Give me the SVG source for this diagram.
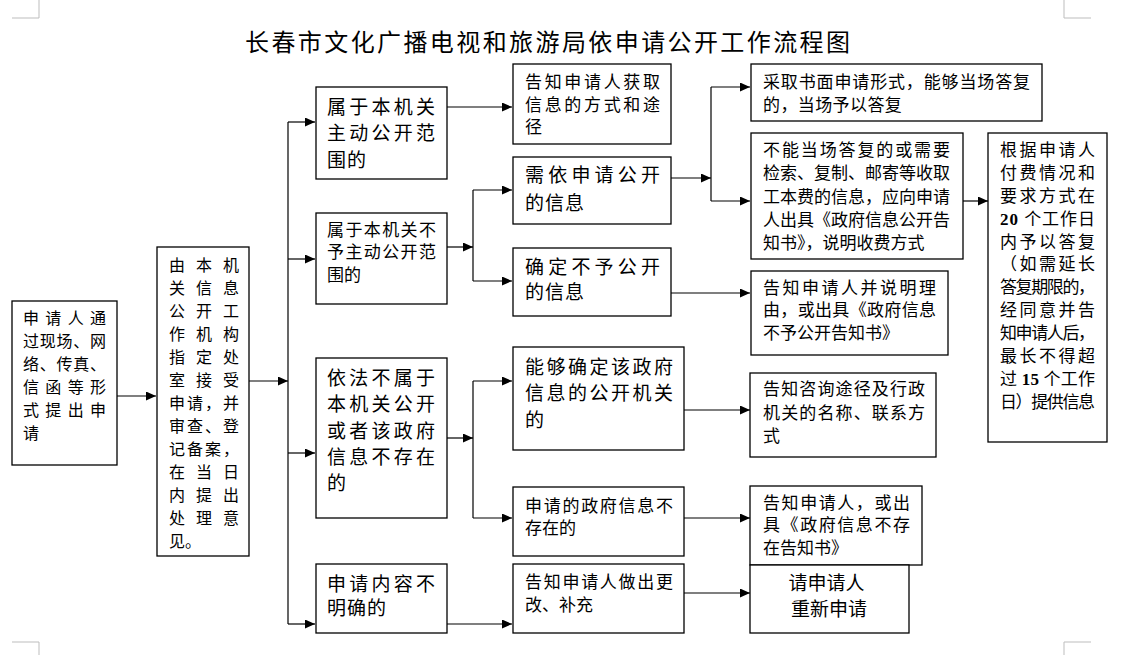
<svg xmlns="http://www.w3.org/2000/svg" width="1123" height="655" viewBox="0 0 1123 655">
<style>
text{font-family:"Liberation Serif","Noto Sans CJK SC",serif;fill:#000}
.f16{font-size:16px}.f17{font-size:17px}.f19{font-size:19px}
.box{fill:#fff;stroke:#000;stroke-width:1.3}
.c{fill:none;stroke:#000;stroke-width:1.2}
.corner{fill:none;stroke:#bdbdbd;stroke-width:1}
.num{font-family:"Liberation Serif",serif;font-weight:bold}
</style>
<defs>
<marker id="ah" markerUnits="userSpaceOnUse" markerWidth="10" markerHeight="9" refX="10" refY="4.5" orient="auto">
<path d="M0,0 L10,4.5 L0,9 z" fill="#000"/>
</marker>
</defs>
<rect width="1123" height="655" fill="#fff"/>
<g id="corners">
<path class="corner" d="M12,18 H39 V0"/>
<path class="corner" d="M1091,18 H1064 V0"/>
<path class="corner" d="M12,642 H39 V655"/>
<path class="corner" d="M1091,642 H1064 V655"/>
</g>
<text id="title" x="245" y="51" style="font-size:24px" textLength="605" lengthAdjust="spacing">长春市文化广播电视和旅游局依申请公开工作流程图</text>
<g id="connectors">
<path class="c" d="M117,396 H156" marker-end="url(#ah)"/>
<path class="c" d="M249,381 H288" marker-end="url(#ah)"/>
<path class="c" d="M288,122 V624"/>
<path class="c" d="M288,122 H315" marker-end="url(#ah)"/>
<path class="c" d="M288,259 H315" marker-end="url(#ah)"/>
<path class="c" d="M288,453 H315" marker-end="url(#ah)"/>
<path class="c" d="M288,624 H315" marker-end="url(#ah)"/>
<path class="c" d="M447,107 H512" marker-end="url(#ah)"/>
<path class="c" d="M447,247 H473" marker-end="url(#ah)"/>
<path class="c" d="M473,190 V281"/>
<path class="c" d="M473,190 H512" marker-end="url(#ah)"/>
<path class="c" d="M473,281 H512" marker-end="url(#ah)"/>
<path class="c" d="M671,178 H711" marker-end="url(#ah)"/>
<path class="c" d="M711,87 V201"/>
<path class="c" d="M711,87 H750" marker-end="url(#ah)"/>
<path class="c" d="M711,201 H750" marker-end="url(#ah)"/>
<path class="c" d="M963,201 H988" marker-end="url(#ah)"/>
<path class="c" d="M671,293 H750" marker-end="url(#ah)"/>
<path class="c" d="M447,438 H473" marker-end="url(#ah)"/>
<path class="c" d="M473,381 V518"/>
<path class="c" d="M473,381 H512" marker-end="url(#ah)"/>
<path class="c" d="M473,518 H512" marker-end="url(#ah)"/>
<path class="c" d="M684,410 H750" marker-end="url(#ah)"/>
<path class="c" d="M684,518 H750" marker-end="url(#ah)"/>
<path class="c" d="M684,593 H750" marker-end="url(#ah)"/>
<path class="c" d="M447,624 H512" marker-end="url(#ah)"/>
</g>
<g id="n-apply">
<rect class="box" x="12" y="301" width="105" height="164"/>
<text class="f16" x="23">
<tspan x="23" y="324" textLength="83" lengthAdjust="spacing">申请人通</tspan>
<tspan x="23" y="347" textLength="83" lengthAdjust="spacing">过现场、网</tspan>
<tspan x="23" y="370" textLength="83" lengthAdjust="spacing">络、传真、</tspan>
<tspan x="23" y="393" textLength="83" lengthAdjust="spacing">信函等形</tspan>
<tspan x="23" y="416" textLength="83" lengthAdjust="spacing">式提出申</tspan>
<tspan x="23" y="439">请</tspan>
</text>
</g>
<g id="n-accept">
<rect class="box" x="157" y="247" width="92" height="309"/>
<text class="f16">
<tspan x="169" y="271" textLength="70" lengthAdjust="spacing">由本机</tspan>
<tspan x="169" y="294" textLength="70" lengthAdjust="spacing">关信息</tspan>
<tspan x="169" y="317" textLength="70" lengthAdjust="spacing">公开工</tspan>
<tspan x="169" y="340" textLength="70" lengthAdjust="spacing">作机构</tspan>
<tspan x="169" y="363" textLength="70" lengthAdjust="spacing">指定处</tspan>
<tspan x="169" y="386" textLength="70" lengthAdjust="spacing">室接受</tspan>
<tspan x="169" y="409" textLength="70" lengthAdjust="spacing">申请，并</tspan>
<tspan x="169" y="432" textLength="70" lengthAdjust="spacing">审查、登</tspan>
<tspan x="169" y="455" textLength="70" lengthAdjust="spacing">记备案，</tspan>
<tspan x="169" y="478" textLength="70" lengthAdjust="spacing">在当日</tspan>
<tspan x="169" y="501" textLength="70" lengthAdjust="spacing">内提出</tspan>
<tspan x="169" y="524" textLength="70" lengthAdjust="spacing">处理意</tspan>
<tspan x="169" y="547">见。</tspan>
</text>
</g>
<g id="n-a1">
<rect class="box" x="316" y="87" width="131" height="92"/>
<text class="f19">
<tspan x="327" y="114" textLength="108" lengthAdjust="spacing">属于本机关</tspan>
<tspan x="327" y="140" textLength="108" lengthAdjust="spacing">主动公开范</tspan>
<tspan x="327" y="167" letter-spacing="1">围的</tspan>
</text>
</g>
<g id="n-a2">
<rect class="box" x="316" y="213" width="131" height="91"/>
<text class="f17">
<tspan x="327" y="236" textLength="109" lengthAdjust="spacing">属于本机关不</tspan>
<tspan x="327" y="258" textLength="109" lengthAdjust="spacing">予主动公开范</tspan>
<tspan x="327" y="281">围的</tspan>
</text>
</g>
<g id="n-a3">
<rect class="box" x="316" y="358" width="131" height="160"/>
<text class="f19">
<tspan x="327" y="385" textLength="108" lengthAdjust="spacing">依法不属于</tspan>
<tspan x="327" y="411" textLength="108" lengthAdjust="spacing">本机关公开</tspan>
<tspan x="327" y="438" textLength="108" lengthAdjust="spacing">或者该政府</tspan>
<tspan x="327" y="464" textLength="108" lengthAdjust="spacing">信息不存在</tspan>
<tspan x="327" y="490">的</tspan>
</text>
</g>
<g id="n-a4">
<rect class="box" x="316" y="564" width="131" height="69"/>
<text class="f19">
<tspan x="327" y="591" textLength="108" lengthAdjust="spacing">申请内容不</tspan>
<tspan x="327" y="615" letter-spacing="1">明确的</tspan>
</text>
</g>
<g id="n-b1">
<rect class="box" x="513" y="64" width="158" height="80"/>
<text class="f17">
<tspan x="525" y="88" textLength="135" lengthAdjust="spacing">告知申请人获取</tspan>
<tspan x="525" y="111" textLength="135" lengthAdjust="spacing">信息的方式和途</tspan>
<tspan x="525" y="133">径</tspan>
</text>
</g>
<g id="n-b2">
<rect class="box" x="513" y="157" width="158" height="67"/>
<text class="f19">
<tspan x="525" y="182" textLength="135" lengthAdjust="spacing">需依申请公开</tspan>
<tspan x="525" y="210" letter-spacing="1">的信息</tspan>
</text>
</g>
<g id="n-b3">
<rect class="box" x="513" y="248" width="158" height="68"/>
<text class="f19">
<tspan x="525" y="274" textLength="135" lengthAdjust="spacing">确定不予公开</tspan>
<tspan x="525" y="299" letter-spacing="1">的信息</tspan>
</text>
</g>
<g id="n-b4">
<rect class="box" x="513" y="347" width="171" height="103"/>
<text class="f19">
<tspan x="525" y="374" textLength="148" lengthAdjust="spacing">能够确定该政府</tspan>
<tspan x="525" y="400" textLength="148" lengthAdjust="spacing">信息的公开机关</tspan>
<tspan x="525" y="427">的</tspan>
</text>
</g>
<g id="n-b5">
<rect class="box" x="513" y="487" width="171" height="69"/>
<text class="f17">
<tspan x="525" y="512" textLength="148" lengthAdjust="spacing">申请的政府信息不</tspan>
<tspan x="525" y="534">存在的</tspan>
</text>
</g>
<g id="n-b6">
<rect class="box" x="513" y="564" width="171" height="69"/>
<text class="f17">
<tspan x="525" y="588" textLength="148" lengthAdjust="spacing">告知申请人做出更</tspan>
<tspan x="525" y="611">改、补充</tspan>
</text>
</g>
<g id="n-c1">
<rect class="box" x="751" y="64" width="291" height="57"/>
<text class="f17">
<tspan x="763" y="88" textLength="267" lengthAdjust="spacing">采取书面申请形式，能够当场答复</tspan>
<tspan x="763" y="111" letter-spacing="0.4">的，当场予以答复</tspan>
</text>
</g>
<g id="n-c2">
<rect class="box" x="751" y="133" width="212" height="126"/>
<text class="f17">
<tspan x="763" y="156" textLength="187" lengthAdjust="spacing">不能当场答复的或需要</tspan>
<tspan x="763" y="179" textLength="187" lengthAdjust="spacing">检索、复制、邮寄等收取</tspan>
<tspan x="763" y="203" textLength="187" lengthAdjust="spacing">工本费的信息，应向申请</tspan>
<tspan x="763" y="226" textLength="187" lengthAdjust="spacing">人出具《政府信息公开告</tspan>
<tspan x="763" y="249">知书》，说明收费方式</tspan>
</text>
</g>
<g id="n-c3">
<rect class="box" x="751" y="271" width="197" height="84"/>
<text class="f17">
<tspan x="763" y="294" textLength="173" lengthAdjust="spacing">告知申请人并说明理</tspan>
<tspan x="763" y="316" textLength="173" lengthAdjust="spacing">由，或出具《政府信息</tspan>
<tspan x="763" y="339">不予公开告知书》</tspan>
</text>
</g>
<g id="n-c4">
<rect class="box" x="750" y="373" width="186" height="84"/>
<text class="f17">
<tspan x="763" y="395" textLength="162" lengthAdjust="spacing">告知咨询途径及行政</tspan>
<tspan x="763" y="419" textLength="162" lengthAdjust="spacing">机关的名称、联系方</tspan>
<tspan x="763" y="442">式</tspan>
</text>
</g>
<g id="n-c5">
<rect class="box" x="750" y="486" width="172" height="79"/>
<text class="f17">
<tspan x="763" y="509" textLength="147" lengthAdjust="spacing">告知申请人，或出</tspan>
<tspan x="763" y="531" textLength="147" lengthAdjust="spacing">具《政府信息不存</tspan>
<tspan x="763" y="554">在告知书》</tspan>
</text>
</g>
<g id="n-c6">
<rect class="box" x="750" y="565" width="159" height="68"/>
<text class="f19" text-anchor="middle">
<tspan x="829" y="590">请申请人</tspan>
<tspan x="829" y="616">重新申请</tspan>
</text>
</g>
<g id="n-d">
<rect class="box" x="988" y="133" width="119" height="309"/>
<text class="f17">
<tspan x="1000" y="156" textLength="95" lengthAdjust="spacing">根据申请人</tspan>
<tspan x="1000" y="179" textLength="95" lengthAdjust="spacing">付费情况和</tspan>
<tspan x="1000" y="202" textLength="95" lengthAdjust="spacing">要求方式在</tspan>
<tspan x="1000" y="225" textLength="95" lengthAdjust="spacing"><tspan class="num">20</tspan> 个工作日</tspan>
<tspan x="1000" y="248" textLength="95" lengthAdjust="spacing">内予以答复</tspan>
<tspan x="1000" y="270" textLength="95" lengthAdjust="spacing">（如需延长</tspan>
<tspan x="1000" y="293" textLength="95" lengthAdjust="spacing">答复期限的，</tspan>
<tspan x="1000" y="316" textLength="95" lengthAdjust="spacing">经同意并告</tspan>
<tspan x="1000" y="339" textLength="95" lengthAdjust="spacing">知申请人后，</tspan>
<tspan x="1000" y="362" textLength="95" lengthAdjust="spacing">最长不得超</tspan>
<tspan x="1000" y="385" textLength="95" lengthAdjust="spacing">过 <tspan class="num">15</tspan> 个工作</tspan>
<tspan x="1000" y="408" textLength="95" lengthAdjust="spacing">日）提供信息</tspan>
</text>
</g>
</svg>
